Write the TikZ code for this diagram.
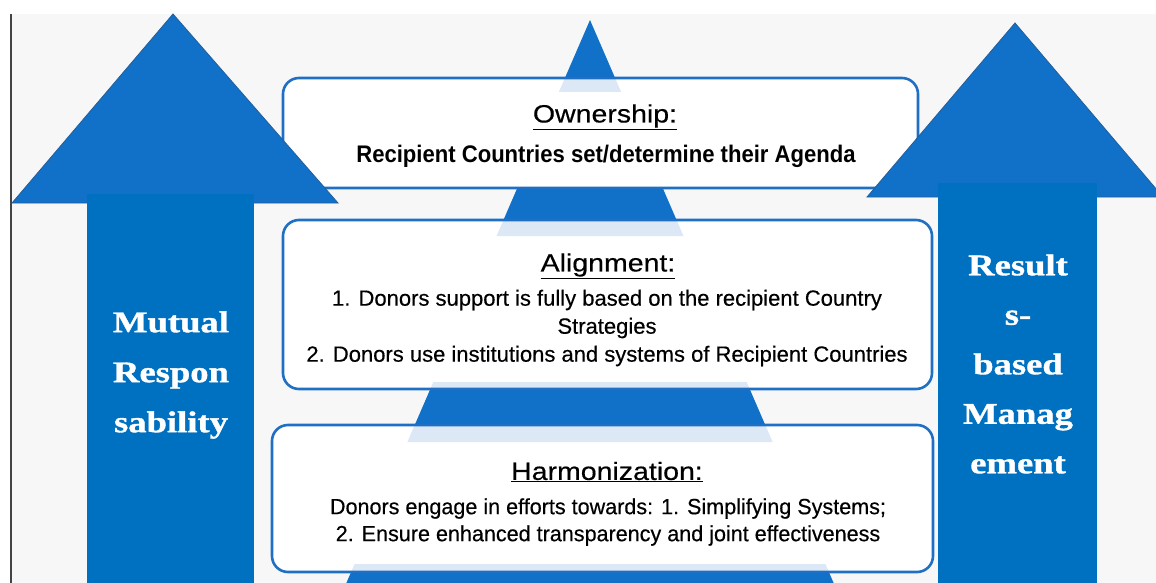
\documentclass[tikz,border=0pt]{standalone}
\usepackage{fontspec}
\setmainfont{Liberation Sans}
\newfontfamily\plainfont[FakeBold=0.4]{Liberation Sans}
\newfontfamily\tightfont[FakeStretch=0.98,FakeBold=0.4]{Liberation Sans}
\newfontfamily\leadfont[FakeStretch=0.92]{Liberation Sans}
\newfontfamily\headfont[FakeStretch=1.14,FakeBold=0.4]{Liberation Sans}
\newfontfamily\pillarfont[FakeStretch=1.22,FakeBold=1.2]{Liberation Serif}
\usetikzlibrary{calc}
\definecolor{pagegray}{HTML}{F7F7F7}
\definecolor{edgegray}{HTML}{444444}
\definecolor{headblue}{HTML}{1170C8}
\definecolor{headedge}{HTML}{245E9A}
\definecolor{shaftblue}{HTML}{0070C0}
\definecolor{boxedge}{HTML}{1F6FC5}
\definecolor{bandblue}{HTML}{DCE8F5}
\tikzset{
  panel/.style={draw=boxedge, line width=2.6pt, rounded corners=16pt},
  arrowhead/.style={fill=headblue, draw=headedge, line width=0.8pt},
  shaft/.style={fill=shaftblue},
  title/.style={font=\headfont\fontsize{25}{28}\selectfont, text=black, inner sep=0pt},
  bodytext/.style={font=\plainfont\fontsize{22}{28}\selectfont, text=black, align=center, inner sep=0pt},
  pillar/.style={font=\pillarfont\bfseries\fontsize{30}{50}\selectfont, text=white, align=center, inner sep=0pt},
}
\begin{document}
\begin{tikzpicture}[x=1pt,y=-1pt]
\useasboundingbox (0,0) rectangle (1156,583);
% page
\fill[white] (0,0) rectangle (1156,583);
\fill[pagegray] (11,14) rectangle (1156,583);
\draw[edgegray, line width=2pt] (11,14) -- (11,583);

% central pyramid
\coordinate (apex) at (590,20);
\coordinate (pl) at (339,600);
\coordinate (pr) at (841,600);
\fill[headblue] (apex) -- (pr) -- (pl) -- cycle;

% the three panels
\foreach \nm/\xa/\ya/\xb/\yb/\tb/\bb in {own/283/78/918/188/14/0, ali/283/220/932/389/16/7, har/272/425/933/572/17/8}{
  \fill[white, rounded corners=16pt] (\xa,\ya) rectangle (\xb,\yb);
  \begin{scope}
    \clip (\xa,\ya) rectangle (\xb,\ya+\tb) (\xa,\yb-\bb) rectangle (\xb,\yb);
    \fill[bandblue] (apex) -- (pr) -- (pl) -- cycle;
  \end{scope}
  \draw[panel] (\xa,\ya) rectangle (\xb,\yb);
}

% panel texts
\node[title] (owntitle) at (605,117) {\underline{Ownership:}};
\node[bodytext, font=\leadfont\bfseries\fontsize{24}{28}\selectfont] (owntext) at (606,156)
  {Recipient Countries set/determine their Agenda};
\node[title] (alititle) at (608,266) {\underline{Alignment:}};
\node[bodytext] (alitext) at (607,328)
  {1. Donors support is fully based on the recipient Country\\Strategies\\2. Donors use institutions and systems of Recipient Countries};
\node[title] (hartitle) at (607,472) {\underline{Harmonization:}};
\node[bodytext, font=\tightfont\fontsize{22}{27}\selectfont] (hartext) at (608,522)
  {Donors engage in efforts towards: 1. Simplifying Systems;\\2. Ensure enhanced transparency and joint effectiveness};

% left pillar arrow
\fill[arrowhead] (173,14) -- (338,203) -- (12,203) -- cycle;
\fill[shaft] (87,194) rectangle (254,583);
\node[pillar] (mutual) at (171,375) {Mutual\\Respon\\sability};

% right pillar arrow
\fill[arrowhead] (1015,23) -- (1163,197) -- (867,197) -- cycle;
\fill[shaft] (938,183) rectangle (1097,583);
\node[pillar, font=\pillarfont\bfseries\fontsize{30}{49.5}\selectfont] (results) at (1018,364)
  {Result\\s-\\based\\Manag\\ement};
\end{tikzpicture}
\end{document}
